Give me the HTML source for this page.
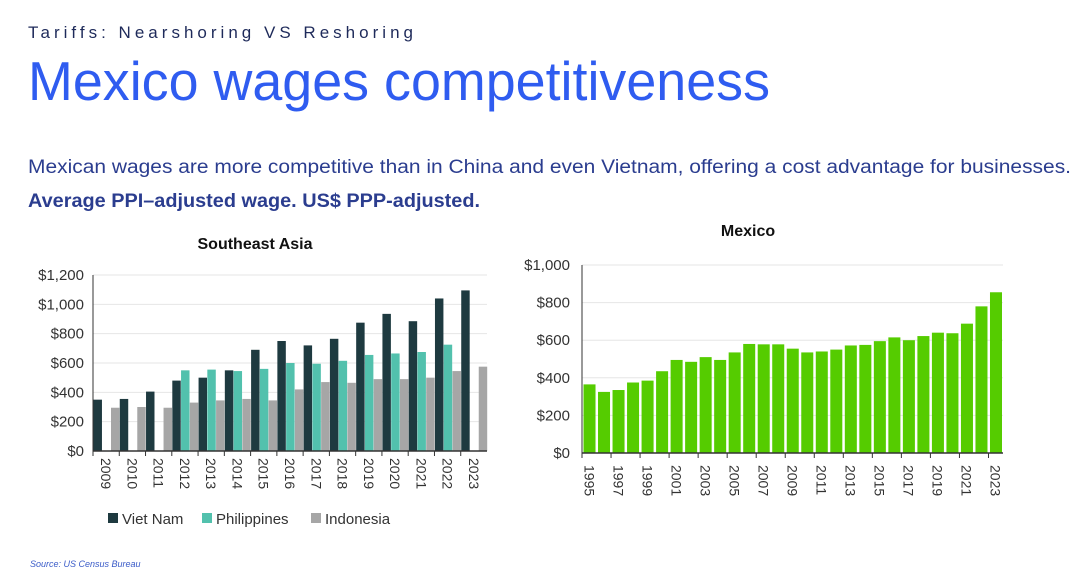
<!DOCTYPE html>
<html><head><meta charset="utf-8"><style>
html,body{margin:0;padding:0;background:#fff;}
svg{display:block;font-family:"Liberation Sans",sans-serif;}
</style></head><body>
<svg id="root" width="1080" height="581" viewBox="0 0 1080 581">
<text x="28" y="38" font-size="17" fill="#1e2a5a" textLength="385" lengthAdjust="spacing">Tariffs: Nearshoring VS Reshoring</text>
<text x="28" y="100" font-size="55" fill="#2f5cf0" textLength="742" lengthAdjust="spacingAndGlyphs">Mexico wages competitiveness</text>
<text x="28" y="173" font-size="19" fill="#2b3d8f" textLength="1043" lengthAdjust="spacingAndGlyphs">Mexican wages are more competitive than in China and even Vietnam, offering a cost advantage for businesses.</text>
<text x="28" y="207" font-size="19" font-weight="bold" fill="#2b3d8f" textLength="452" lengthAdjust="spacingAndGlyphs">Average PPI–adjusted wage. US$ PPP-adjusted.</text>
<text x="30" y="567" font-size="9" font-style="italic" fill="#3a5bc8">Source: US Census Bureau</text>

<text x="255" y="249" font-size="16" font-weight="bold" fill="#111" text-anchor="middle">Southeast Asia</text>
<g id="sea"></g>
<text x="748" y="236" font-size="16" font-weight="bold" fill="#111" text-anchor="middle">Mexico</text>
<g id="mex"></g>
</svg>
<script>
const seaYears=["2009","2010","2011","2012","2013","2014","2015","2016","2017","2018","2019","2020","2021","2022","2023"];
const vietNam=[350,355,405,480,500,550,690,750,720,765,875,935,885,1040,1095];
const philippines=[null,null,null,550,555,545,560,600,595,615,655,665,675,725,null];
const indonesia=[295,300,295,330,345,355,345,420,470,465,490,490,500,545,575];
const seaTicks=[0,200,400,600,800,1000,1200];
const seaTickLabels=["$0","$200","$400","$600","$800","$1,000","$1,200"];
const mexYears=["1995","1996","1997","1998","1999","2000","2001","2002","2003","2004","2005","2006","2007","2008","2009","2010","2011","2012","2013","2014","2015","2016","2017","2018","2019","2020","2021","2022","2023"];
const mexWages=[365,325,335,375,385,435,495,485,510,495,535,580,578,578,555,535,540,550,572,575,595,615,600,622,640,637,688,780,855];
const mexTicks=[0,200,400,600,800,1000];
const mexTickLabels=["$0","$200","$400","$600","$800","$1,000"];

const NS="http://www.w3.org/2000/svg";
function mk(parent,tag,attrs){const e=document.createElementNS(NS,tag);for(const k in attrs)e.setAttribute(k,attrs[k]);parent.appendChild(e);return e;}

(function(){
 const g=document.getElementById('sea');
 const x0=93,x1=487,y0=451,y1=275,max=1200;
 const y=v=>y0-(v/max)*(y0-y1);
 const gw=(x1-x0)/seaYears.length,bw=gw/3-0.3;
 seaTicks.forEach((t,i)=>{
  if(t>0){const l=mk(g,'line',{x1:x0,x2:x1,y1:y(t),y2:y(t),stroke:'#e6e6e6','stroke-width':1});
  
  }
  const tx=mk(g,'text',{x:84,y:y(t)+5,'font-size':15,fill:'#333','text-anchor':'end'});
  tx.textContent=seaTickLabels[i];
  
  
 });
 const series=[[vietNam,'#1e3a40','viet-nam'],[philippines,'#52c1ad','philippines'],[indonesia,'#a6a6a6','indonesia']];
 seaYears.forEach((yr,i)=>{
  const gx=x0+i*gw+0.5;
  series.forEach((s,j)=>{
   const v=s[0][i]; if(v==null) return;
   const r=mk(g,'rect',{x:gx+j*(bw+0.3),y:y(v),width:bw,height:y0-y(v),fill:s[1]});
   
   
  });
  const tk=mk(g,'line',{x1:x0+i*gw,x2:x0+i*gw,y1:y0,y2:y0+5,stroke:'#333'});
  
  
  const cx=x0+(i+0.5)*gw;
  const tx=mk(g,'text',{x:cx-5,y:458,'font-size':14,fill:'#333',transform:'rotate(90 '+(cx-5)+' 458)'});
  tx.textContent=yr;
  
  
 });
 const ax=mk(g,'line',{x1:x0,x2:x0,y1:y1,y2:y0,stroke:'#333'});
 
 
 const bx=mk(g,'line',{x1:x0,x2:x1,y1:y0,y2:y0,stroke:'#333','stroke-width':1.5});
 
 
 const leg=[['Viet Nam','#1e3a40',108],['Philippines','#52c1ad',202],['Indonesia','#a6a6a6',311]];
 leg.forEach(l=>{
  const r=mk(g,'rect',{x:l[2],y:513,width:10,height:10,fill:l[1]});
  
  
  const t=mk(g,'text',{x:l[2]+14,y:524,'font-size':15,fill:'#333'});
  t.textContent=l[0];
  
  
 });
})();

(function(){
 const g=document.getElementById('mex');
 const x0=582,x1=1003,y0=453,y1=265,max=1000;
 const y=v=>y0-(v/max)*(y0-y1);
 const gw=(x1-x0)/mexYears.length,bw=gw-2.5;
 mexTicks.forEach((t,i)=>{
  if(t>0){const l=mk(g,'line',{x1:x0,x2:x1,y1:y(t),y2:y(t),stroke:'#e6e6e6','stroke-width':1});
  
  }
  const tx=mk(g,'text',{x:570,y:y(t)+5,'font-size':15,fill:'#333','text-anchor':'end'});
  tx.textContent=mexTickLabels[i];
  
  
 });
 mexYears.forEach((yr,i)=>{
  const v=mexWages[i];
  const r=mk(g,'rect',{x:x0+i*gw+1.5,y:y(v),width:bw,height:y0-y(v),fill:'#55cc00'});
  
  
  if(i%2===0){
   const tk=mk(g,'line',{x1:x0+i*gw,x2:x0+i*gw,y1:y0,y2:y0+5,stroke:'#333'});
   
   
   const cx=x0+(i+0.5)*gw;
   const tx=mk(g,'text',{x:cx-5,y:465,'font-size':14,fill:'#333',transform:'rotate(90 '+(cx-5)+' 465)'});
   tx.textContent=yr;
   
   
  }
 });
 const ax=mk(g,'line',{x1:x0,x2:x0,y1:y1,y2:y0,stroke:'#333'});
 
 
 const bx=mk(g,'line',{x1:x0,x2:x1,y1:y0,y2:y0,stroke:'#333','stroke-width':1.5});
 
 
})();
</script>
</body></html>
